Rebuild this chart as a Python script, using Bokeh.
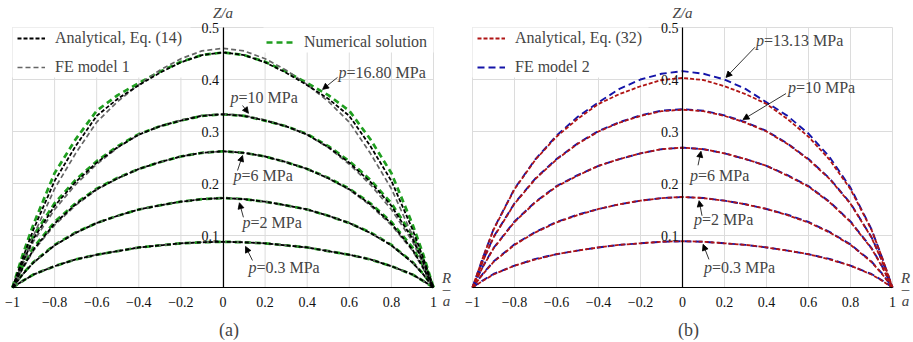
from bokeh.plotting import figure
from bokeh.layouts import row
from bokeh.models import (Range1d, LinearAxis, FixedTicker, Legend, LegendItem,
                          Label, Arrow, NormalHead)
from bokeh.embed import file_html
from bokeh.resources import INLINE

# ---------------- data ----------------
R = [-1, -0.95, -0.9, -0.8, -0.7, -0.6, -0.5, -0.4, -0.3, -0.2, -0.1, 0,
     0.1, 0.2, 0.3, 0.4, 0.5, 0.6, 0.7, 0.8, 0.9, 0.95, 1]

# (a) Analytical, Eq. (14)
ana14_p03 = [0, 0.013, 0.025, 0.041, 0.054, 0.063, 0.070, 0.077, 0.081, 0.085, 0.087, 0.088,
             0.087, 0.085, 0.081, 0.077, 0.070, 0.063, 0.054, 0.041, 0.025, 0.013, 0]
ana14_p2 = [0, 0.026, 0.048, 0.081, 0.105, 0.124, 0.138, 0.150, 0.158, 0.165, 0.170, 0.172,
            0.170, 0.165, 0.158, 0.150, 0.138, 0.124, 0.105, 0.081, 0.048, 0.026, 0]
ana14_p6 = [0, 0.039, 0.073, 0.123, 0.160, 0.189, 0.210, 0.228, 0.241, 0.252, 0.259, 0.262,
            0.259, 0.252, 0.241, 0.228, 0.210, 0.189, 0.160, 0.123, 0.073, 0.039, 0]
ana14_p10 = [0, 0.050, 0.094, 0.157, 0.203, 0.240, 0.270, 0.294, 0.310, 0.321, 0.330, 0.333,
             0.330, 0.321, 0.310, 0.294, 0.270, 0.240, 0.203, 0.157, 0.094, 0.050, 0]
ana14_p1680 = [0, 0.058, 0.112, 0.205, 0.272, 0.330, 0.363, 0.389, 0.413, 0.433, 0.447, 0.452,
               0.447, 0.433, 0.413, 0.389, 0.363, 0.330, 0.272, 0.205, 0.112, 0.058, 0]

# (a) FE model 1
fe1_p03 = ana14_p03
fe1_p2 = ana14_p2
fe1_p6 = [0, 0.037, 0.071, 0.120, 0.158, 0.188, 0.210, 0.228, 0.241, 0.252, 0.259, 0.262,
          0.259, 0.252, 0.241, 0.228, 0.210, 0.188, 0.158, 0.120, 0.071, 0.037, 0]
fe1_p10 = [0, 0.046, 0.089, 0.150, 0.198, 0.237, 0.269, 0.294, 0.310, 0.322, 0.331, 0.334,
           0.331, 0.322, 0.310, 0.294, 0.269, 0.237, 0.198, 0.150, 0.089, 0.046, 0]
fe1_p1680 = [0, 0.050, 0.100, 0.190, 0.258, 0.318, 0.358, 0.390, 0.418, 0.440, 0.455, 0.460,
             0.455, 0.440, 0.418, 0.390, 0.358, 0.318, 0.258, 0.190, 0.100, 0.050, 0]

# (a) Numerical solution
num_p03 = ana14_p03
num_p2 = [0, 0.027, 0.049, 0.082, 0.106, 0.124, 0.138, 0.150, 0.158, 0.165, 0.170, 0.172,
          0.170, 0.165, 0.158, 0.150, 0.138, 0.124, 0.106, 0.082, 0.049, 0.027, 0]
num_p6 = [0, 0.042, 0.077, 0.126, 0.162, 0.190, 0.211, 0.228, 0.241, 0.252, 0.259, 0.262,
          0.259, 0.252, 0.241, 0.228, 0.211, 0.190, 0.162, 0.126, 0.077, 0.042, 0]
num_p10 = [0, 0.055, 0.100, 0.162, 0.207, 0.243, 0.272, 0.295, 0.310, 0.321, 0.330, 0.333,
           0.330, 0.321, 0.310, 0.295, 0.272, 0.243, 0.207, 0.162, 0.100, 0.055, 0]
num_p1680 = [0, 0.065, 0.122, 0.220, 0.285, 0.340, 0.370, 0.393, 0.415, 0.434, 0.447, 0.452,
             0.447, 0.434, 0.415, 0.393, 0.370, 0.340, 0.285, 0.220, 0.122, 0.065, 0]

# (b) Analytical, Eq. (32)
ana32_p03 = [0, 0.013, 0.025, 0.042, 0.054, 0.064, 0.071, 0.077, 0.082, 0.085, 0.088, 0.089,
             0.088, 0.085, 0.082, 0.077, 0.071, 0.064, 0.054, 0.042, 0.025, 0.013, 0]
ana32_p2 = [0, 0.026, 0.049, 0.082, 0.106, 0.125, 0.139, 0.151, 0.160, 0.167, 0.172, 0.174,
            0.172, 0.167, 0.160, 0.151, 0.139, 0.125, 0.106, 0.082, 0.049, 0.026, 0]
ana32_p6 = [0, 0.040, 0.075, 0.126, 0.164, 0.194, 0.215, 0.234, 0.247, 0.258, 0.266, 0.269,
            0.266, 0.258, 0.247, 0.234, 0.215, 0.194, 0.164, 0.126, 0.075, 0.040, 0]
ana32_p10 = [0, 0.051, 0.096, 0.161, 0.209, 0.246, 0.276, 0.300, 0.317, 0.330, 0.339, 0.342,
             0.339, 0.330, 0.317, 0.300, 0.276, 0.246, 0.209, 0.161, 0.096, 0.051, 0]
ana32_p1313 = [0, 0.058, 0.111, 0.189, 0.246, 0.290, 0.324, 0.353, 0.372, 0.387, 0.399, 0.403,
               0.399, 0.387, 0.372, 0.353, 0.324, 0.290, 0.246, 0.189, 0.111, 0.058, 0]

# (b) FE model 2
fe2_p03 = [0, 0.014, 0.026, 0.042, 0.055, 0.064, 0.071, 0.077, 0.082, 0.085, 0.088, 0.089,
           0.088, 0.085, 0.082, 0.077, 0.071, 0.064, 0.055, 0.042, 0.026, 0.014, 0]
fe2_p2 = [0, 0.027, 0.050, 0.083, 0.107, 0.126, 0.140, 0.151, 0.160, 0.167, 0.172, 0.174,
          0.172, 0.167, 0.160, 0.151, 0.140, 0.126, 0.107, 0.083, 0.050, 0.027, 0]
fe2_p6 = [0, 0.041, 0.076, 0.127, 0.165, 0.195, 0.216, 0.234, 0.247, 0.258, 0.266, 0.269,
          0.266, 0.258, 0.247, 0.234, 0.216, 0.195, 0.165, 0.127, 0.076, 0.041, 0]
fe2_p10 = [0, 0.052, 0.097, 0.162, 0.210, 0.247, 0.277, 0.301, 0.318, 0.331, 0.340, 0.343,
           0.340, 0.331, 0.318, 0.301, 0.277, 0.247, 0.210, 0.162, 0.097, 0.052, 0]
fe2_p1313 = [0, 0.058, 0.112, 0.190, 0.247, 0.292, 0.328, 0.356, 0.382, 0.400, 0.411, 0.416,
             0.411, 0.400, 0.382, 0.356, 0.330, 0.296, 0.251, 0.192, 0.112, 0.058, 0]

X_TICKS = [-1, -0.8, -0.6, -0.4, -0.2, 0, 0.2, 0.4, 0.6, 0.8, 1]
X_TICK_LABELS = ["\u22121", "\u22120.8", "\u22120.6", "\u22120.4", "\u22120.2", "0",
                 "0.2", "0.4", "0.6", "0.8", "1"]
Y_TICKS = [0.1, 0.2, 0.3, 0.4, 0.5]

# annotation positions (data coords): text x, text y, arrow start, arrow end
ANN_A = [("16.80", 0.549, 0.413, (0.544, 0.404), (0.473, 0.381)),
         ("10", 0.036, 0.365, (0.093, 0.350), (0.121, 0.335)),
         ("6", 0.050, 0.215, (0.069, 0.225), (0.093, 0.254)),
         ("2", 0.093, 0.125, (0.097, 0.135), (0.078, 0.163)),
         ("0.3", 0.121, 0.038, (0.140, 0.052), (0.107, 0.079))]
ANN_B = [("13.13", 0.350, 0.475, (0.345, 0.462), (0.207, 0.404)),
         ("10", 0.502, 0.385, (0.493, 0.373), (0.288, 0.323)),
         ("6", 0.036, 0.215, (0.074, 0.235), (0.088, 0.262)),
         ("2", 0.055, 0.131, (0.093, 0.138), (0.079, 0.167)),
         ("0.3", 0.102, 0.038, (0.126, 0.054), (0.098, 0.083))]

FONT = "Liberation Serif"
H = 342
TOP, BOTTOM = 27, 287          # pixel rows of Z/a = 0.5 and Z/a = 0


class Panel:
    def __init__(self, width, left_px, right_px, caption):
        self.sx = (right_px - left_px) / 2.0            # px per unit R/a
        self.sy = (BOTTOM - TOP) / 0.5                  # px per unit Z/a
        self.x0px = (left_px + right_px) / 2.0
        xr = Range1d(-1 - left_px / self.sx, 1 + (width - right_px) / self.sx)
        yr = Range1d(-(H - BOTTOM) / self.sy, 0.5 + TOP / self.sy)
        p = figure(width=width, height=H, x_range=xr, y_range=yr,
                   x_axis_type=None, y_axis_type=None, output_backend="svg",
                   toolbar_location=None, min_border=0)
        p.outline_line_color = None
        p.background_fill_color = "white"
        p.border_fill_color = "white"
        # grid restricted to the data box
        p.segment(x0=X_TICKS, y0=[0] * len(X_TICKS), x1=X_TICKS, y1=[0.5] * len(X_TICKS),
                  line_color="#dcdcdc", line_width=1)
        p.segment(x0=[-1] * len(Y_TICKS), y0=Y_TICKS, x1=[1] * len(Y_TICKS), y1=Y_TICKS,
                  line_color="#dcdcdc", line_width=1)
        xa = LinearAxis(ticker=FixedTicker(ticks=X_TICKS), fixed_location=0, bounds=(-1, 1),
                        major_label_overrides={t: s for t, s in zip(X_TICKS, X_TICK_LABELS)})
        ya = LinearAxis(ticker=FixedTicker(ticks=Y_TICKS), fixed_location=0, bounds=(0, 0.5))
        for ax, so in ((xa, 9), (ya, 4)):
            ax.axis_line_color = "black"
            ax.axis_line_width = 1.2
            ax.major_tick_in = 0
            ax.major_tick_out = 0
            ax.minor_tick_line_color = None
            ax.major_label_text_font = FONT
            ax.major_label_text_font_size = "14px"
            ax.major_label_text_color = "#111111"
            ax.major_label_standoff = so
        p.add_layout(xa, "below")
        p.add_layout(ya, "left")
        # axis titles and caption
        p.add_layout(Label(x=0, y=0.5, y_offset=7, text="Z/a", text_font=FONT,
                           text_font_style="italic", text_font_size="15px",
                           text_align="center", text_baseline="bottom"))
        p.add_layout(Label(x=1, y=0, x_offset=13, y_offset=2, text="R", text_font=FONT,
                           text_font_style="italic", text_font_size="15px",
                           text_align="center", text_baseline="bottom"))
        p.add_layout(Label(x=1, y=0, x_offset=13, y_offset=-5, text="a", text_font=FONT,
                           text_font_style="italic", text_font_size="15px",
                           text_align="center", text_baseline="top"))
        p.add_layout(Label(x=1, y=0, x_offset=13, y_offset=-1, text="\u2013", text_font=FONT,
                           text_font_size="15px", text_align="center",
                           text_baseline="middle"))
        p.add_layout(Label(x=0, y=0, x_offset=6, y_offset=-42, text=caption, text_font=FONT,
                           text_font_size="18px", text_align="center",
                           text_baseline="middle"))
        self.p = p

    def blank(self, l, r, t, b):
        """white patch (legend background) hiding the grid, below the curves"""
        self.p.quad(left=[(l - self.x0px) / self.sx], right=[(r - self.x0px) / self.sx],
                    top=[(BOTTOM - t) / self.sy], bottom=[(BOTTOM - b) / self.sy],
                    fill_color="white", line_color=None)

    def annotate(self, anns):
        p = self.p
        for val, tx, ty, (sx, sy), (ex, ey) in anns:
            p.add_layout(Label(x=tx, y=ty, text="p", text_font=FONT,
                               text_font_style="italic", text_font_size="16px",
                               text_baseline="middle", text_align="left"))
            p.add_layout(Label(x=tx, y=ty, x_offset=8, text="=" + val + " MPa",
                               text_font=FONT, text_font_size="16px",
                               text_baseline="middle", text_align="left"))
            p.add_layout(Arrow(x_start=sx, y_start=sy, x_end=ex, y_end=ey, line_width=0.8,
                               line_color="black",
                               end=NormalHead(size=6, fill_color="black", line_color="black",
                                              line_width=0.8)))

    def legend(self, items, loc):
        self.p.add_layout(Legend(items=items, location=loc, margin=0, padding=5, spacing=11,
                                 label_height=14, glyph_height=14, glyph_width=28,
                                 label_standoff=10, label_text_font=FONT,
                                 label_text_font_size="16px", border_line_color=None,
                                 background_fill_alpha=0.0))


# ---------------- panel (a) ----------------
A = Panel(456, 12, 433, "(a)")
A.blank(12, 190, 27, 77)
A.blank(263, 433, 27, 52)
pa = A.p
num_all = [num_p03, num_p2, num_p6, num_p10, num_p1680]
fe1_all = [fe1_p03, fe1_p2, fe1_p6, fe1_p10, fe1_p1680]
ana14_all = [ana14_p03, ana14_p2, ana14_p6, ana14_p10, ana14_p1680]
r_num = pa.multi_line(xs=[R] * 5, ys=num_all, line_color="#1f9e1f", line_width=2.7,
                      line_dash="6 4")
r_fe1 = pa.multi_line(xs=[R] * 5, ys=fe1_all, line_color="#666666", line_width=1.7,
                      line_dash="5 3")
r_a14 = pa.multi_line(xs=[R] * 5, ys=ana14_all, line_color="black", line_width=1.8,
                      line_dash="4 2")
A.annotate(ANN_A)
A.legend([LegendItem(label="Analytical, Eq. (14)", renderers=[r_a14]),
          LegendItem(label="FE model 1", renderers=[r_fe1])], (17, 266))
A.legend([LegendItem(label="Numerical solution", renderers=[r_num])], (266, 291))

# ---------------- panel (b) ----------------
B = Panel(457, 16, 436, "(b)")
B.blank(16, 192, 27, 77)
pb = B.p
fe2_all = [fe2_p03, fe2_p2, fe2_p6, fe2_p10, fe2_p1313]
ana32_all = [ana32_p03, ana32_p2, ana32_p6, ana32_p10, ana32_p1313]
r_fe2 = pb.multi_line(xs=[R] * 5, ys=fe2_all, line_color="#1414a8", line_width=1.9,
                      line_dash="7 4")
r_a32 = pb.multi_line(xs=[R] * 5, ys=ana32_all, line_color="#b01414", line_width=1.8,
                      line_dash="4 2")
B.annotate(ANN_B)
B.legend([LegendItem(label="Analytical, Eq. (32)", renderers=[r_a32]),
          LegendItem(label="FE model 2", renderers=[r_fe2])], (21, 266))

p = row(pa, pb)
open("out.html", "w").write(file_html(p, INLINE))
